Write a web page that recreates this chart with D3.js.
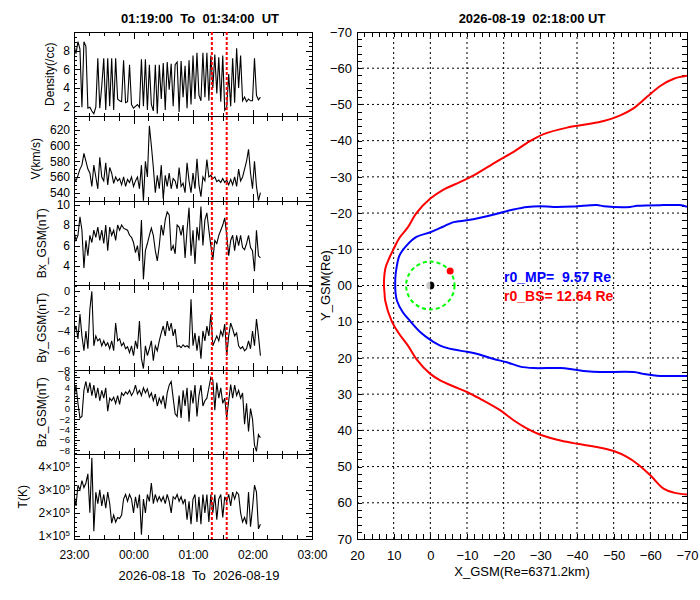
<!DOCTYPE html>
<html>
<head>
<meta charset="utf-8">
<script src="https://cdn.jsdelivr.net/npm/d3@7"></script>
<style>
    body { margin: 0; background: #fff; }
    svg text { font-family: "Liberation Sans", Arial, sans-serif; fill: #000; }
</style>
</head>
<body>
<div id="chart"></div>
<script>
// Solar wind samples, one every 2 minutes from 23:00 UT
const sampleStepMin = 2;
const density = [
    8.6, 7.7, 9.0, 8.2, 1.9, 9.0, 8.5, 1.8, 1.9, 1.5,
    1.2, 1.9, 7.2, 1.8, 4.2, 7.2, 1.6, 7.2, 2.0, 7.2,
    1.6, 7.2, 2.8, 2.6, 2.5, 7.0, 2.4, 2.5, 6.5, 2.2,
    1.8, 2.0, 2.2, 1.9, 7.1, 2.0, 7.1, 1.6, 6.5, 2.2,
    1.5, 6.5, 1.2, 6.5, 2.8, 6.7, 1.6, 6.8, 3.8, 6.6,
    2.0, 6.5, 6.8, 1.4, 6.9, 3.0, 6.4, 1.8, 7.0, 2.2,
    7.5, 2.8, 7.8, 3.2, 2.6, 7.8, 3.0, 7.8, 2.6, 7.5,
    4.0, 7.6, 3.4, 7.3, 2.5, 7.5, 1.6, 1.9, 5.5, 2.0,
    7.2, 2.4, 8.3, 4.0, 7.5, 2.6, 3.0, 2.5, 2.8, 2.6,
    2.6, 7.2, 3.2, 2.7, 3.0
];
const speed = [
    560, 555, 562, 570, 575, 590, 580, 570, 565, 548,
    575, 560, 545, 585, 560, 555, 578, 550, 572, 565,
    552, 560, 555, 558, 550, 560, 548, 557, 553, 560,
    548, 555, 560, 545, 575, 530, 580, 560, 625, 600,
    572, 540, 562, 545, 575, 532, 562, 548, 565, 545,
    558, 555, 545, 572, 548, 552, 540, 578, 555, 540,
    565, 545, 583, 550, 535, 560, 555, 582, 560, 562,
    558, 560, 554, 556, 553, 558, 553, 556, 550, 557,
    550, 560, 548, 570, 555, 560, 570, 580, 595, 565,
    545, 580, 548, 530, 540
];
const bxGsm = [
    7.4, 6.5, 7.0, 8.8, 7.5, 3.8, 6.5, 5.0, 7.0, 6.3,
    7.5, 6.8, 7.8, 6.5, 7.5, 6.2, 8.0, 5.5, 7.8, 7.0,
    7.5, 6.5, 8.0, 7.5, 8.0, 7.7, 7.6, 7.5, 7.0, 6.8,
    6.3, 5.3, 6.0, 4.5, 8.5, 2.7, 5.5, 6.2, 7.0, 7.7,
    7.0, 5.5, 4.5, 6.0, 8.0, 7.0, 8.5, 9.3, 9.0, 5.5,
    6.0, 5.2, 8.0, 7.8, 7.0, 8.0, 4.8, 7.5, 9.7, 5.0,
    7.5, 4.2, 7.8, 6.5, 9.8, 6.0, 8.5, 9.2, 7.5, 6.0,
    4.6, 6.5, 6.2, 7.0, 7.5, 8.0, 8.7, 7.0, 5.0, 6.5,
    7.0, 5.5, 7.0, 6.0, 7.0, 5.8, 5.6, 6.2, 7.0, 5.8,
    5.5, 3.5, 7.5, 5.0, 4.8
];
const byGsm = [
    -4.2, -3.5, -4.8, -2.3, -4.5, -6.0, -4.0, -5.8, -1.8, 0.0,
    -5.5, -4.5, -5.0, -4.8, -5.5, -5.0, -5.5, -5.2, -5.8, -5.0,
    -6.0, -3.2, -5.0, -4.8, -5.5, -5.2, -5.8, -5.6, -6.2, -5.5,
    -6.5, -5.0, -5.8, -3.0, -6.8, -7.8, -5.5, -6.5, -5.8, -5.0,
    -7.0, -5.5, -6.0, -5.0, -4.2, -3.5, -4.5, -3.0, -4.0, -3.2,
    -4.5, -3.8, -5.6, -5.5, -5.7, -5.4, -5.6, -5.5, -5.7, -0.8,
    -5.5, -4.2, -6.0, -4.5, -6.8, -4.0, -5.0, -3.5, -4.5, -2.3,
    -5.5, -5.0, -4.5, -5.0, -4.0, -4.5, -3.3, -6.5, -4.5, -3.2,
    -3.8, -4.5, -4.2, -5.5, -5.8, -5.6, -6.0, -5.8, -5.0, -5.8,
    -4.0, -5.5, -2.8, -4.5, -6.5
];
const bzGsm = [
    2.0, 4.5, 1.0, -1.8, -1.5, 3.5, 5.2, 3.0, 5.0, 2.5,
    4.5, 2.0, 4.0, 1.5, 3.5, 2.0, 4.0, -0.5, 2.0, 1.5,
    2.2, 1.0, 2.5, 0.8, 3.0, 2.5, 3.2, 2.8, 3.5, 2.5,
    3.2, 4.5, 2.8, 3.5, 2.5, 4.0, 3.0, 3.8, 2.2, 3.0,
    1.5, 2.8, 0.5, 2.0, 1.0, 2.5, 0.0, 3.0, 4.5, 5.2,
    2.0, -1.0, -1.5, 2.5, -1.8, 3.5, 0.5, 4.0, -2.5, 3.5,
    1.0, 4.5, -1.5, 2.5, 4.5, 0.5, 1.5, 2.0, 4.0, 6.0,
    5.5, -0.3, 5.0, 2.0, 4.0, 1.0, 2.0, -1.8, 1.5, 4.6,
    2.0, 4.5, 2.5, 3.5, 2.0, 3.0, -3.0, 1.0, -4.4, 0.0,
    -2.0, -7.0, -8.2, -5.0, -5.6
];
// Temperature in units of 10^5 K
const tempE5 = [
    2.8, 2.3, 3.2, 3.0, 3.4, 3.1, 3.3, 3.7, 2.0, 4.4,
    1.2, 2.9, 2.4, 3.0, 2.3, 2.8, 2.2, 2.9, 2.4, 1.55,
    1.9, 1.6, 1.8, 1.75, 1.9, 2.6, 2.8, 2.5, 2.8, 2.6,
    2.0, 2.7, 2.2, 2.8, 1.05, 2.6, 2.0, 2.8, 2.5, 3.3,
    2.4, 2.8, 2.5, 2.7, 2.5, 2.7, 2.4, 2.8, 2.5, 2.0,
    2.7, 2.6, 2.8, 2.5, 2.7, 2.4, 2.6, 1.7, 2.5, 1.5,
    2.6, 2.8, 1.6, 2.7, 1.5, 2.8, 2.0, 2.8, 1.6, 2.8,
    2.0, 2.8, 1.7, 2.6, 2.8, 1.8, 2.7, 2.5, 2.8, 2.3,
    2.9, 2.6, 2.9, 2.8, 2.0, 1.6, 1.8, 1.5, 2.9, 1.4,
    2.2, 3.2, 2.9, 1.3, 1.5
];

const densityTicks = [2, 4, 6, 8];
const speedTicks = [540, 560, 580, 600, 620];
const bxTicks = [4, 6, 8, 10];
const byTicks = [-8, -6, -4, -2, 0];
const bzTicks = [-8, -6, -4, -2, 0, 2, 4, 6];
const tempTicks = [1, 2, 3, 4];

// Magnetopause / bow shock outlines in GSM [X, Y] (Re)
const magnetopause = [
    [-70, -21.7], [-68, -22.2], [-63.6, -22.2], [-56.4, -22.0], [-54.5, -21.7], [-47.3, -21.9],
    [-45.4, -22.2], [-39, -21.8], [-33.6, -21.7], [-30, -21.9], [-26.4, -21.7], [-22.7, -21.0],
    [-20, -20.3], [-18.2, -19.8], [-13.6, -18.7], [-10, -18.0], [-6.4, -17.5], [-2.7, -15.9],
    [0, -14.7], [3.8, -13.4], [6.5, -11.0], [8.4, -8.3], [9.2, -5], [9.55, -2], [9.57, 0],
    [9.5, 2], [9.1, 4.2], [7.5, 7.4], [5.6, 9.7], [2.7, 12.9], [0, 15.0], [-2.7, 16.6],
    [-6.4, 17.7], [-10, 18.3], [-13.6, 19.1], [-17.3, 20.3], [-20.9, 21.2], [-24.5, 22.4],
    [-28.2, 22.8], [-35.5, 22.8], [-39, 23.2], [-42.7, 23.7], [-46.4, 23.9], [-55.5, 23.9],
    [-58, 24.4], [-61.8, 24.9], [-70, 25.0]
];
const bowShock = [
    [-70, -57.9], [-66.4, -57.1], [-62.7, -55.1], [-59.1, -52.1], [-55.5, -49.0], [-51.8, -47.0],
    [-47.3, -45.4], [-42.7, -44.5], [-37.3, -43.6], [-30.9, -41.8], [-26.4, -39.4], [-22.7, -36.9],
    [-18.2, -34.3], [-11.8, -30.4], [-8.2, -28.6], [-3.6, -26.5], [0, -24.0], [3.8, -20.0],
    [6.1, -16.1], [8.4, -13.2], [10, -10.1], [11.1, -7.8], [12.2, -5.0], [12.6, -2], [12.64, 0],
    [12.5, 2], [12.3, 4.2], [10.6, 9.7], [8.8, 12.9], [6.1, 16.6], [3.8, 20.3], [0, 24.4],
    [-2.7, 26.2], [-6.4, 27.9], [-10, 29.4], [-13.6, 31.3], [-19.1, 34.5], [-22.7, 37.2],
    [-26.4, 39.5], [-30, 41.2], [-35.5, 42.8], [-40, 43.7], [-45.5, 44.6], [-50, 45.7],
    [-53.6, 47.3], [-56.4, 49.2], [-60, 52.4], [-63.6, 56.1], [-66.4, 57.2], [-70, 57.7]
];
const satellitePos = [-5.4, -4.0];
const geoRadius = 6.6;
const r0MP = 9.57;
const r0BS = 12.64;

const startTime = new Date(Date.UTC(2026, 7, 18, 23, 0));
const endTime = new Date(Date.UTC(2026, 7, 19, 3, 0));
const eventTimes = [new Date(Date.UTC(2026, 7, 19, 1, 19)), new Date(Date.UTC(2026, 7, 19, 1, 34))];

class SolarWindDashboard {
    constructor(container) {
        this.container = container;
        this.left = {x0: 74, x1: 312, top: 32, bottom: 539};
        this.right = {x0: 357, x1: 687, top: 32, bottom: 539};
    }

    render() {
        this.svg = d3.select(this.container).append('svg')
            .attr('width', 700)
            .attr('height', 600);

        this.renderTimeSeries();
        this.renderOrbitView();
    }

    renderTimeSeries() {
        const svg = this.svg;
        const L = this.left;
        const panels = [
            {label: 'Density(/cc)', values: density, domain: [0.9, 10.05], ticks: densityTicks, minor: 0.5, titleX: 50},
            {label: 'V(km/s)', values: speed, domain: [529.5, 636.8], ticks: speedTicks, minor: 5, titleX: 36},
            {label: 'Bx_GSM(nT)', values: bxGsm, domain: [2.1, 10.35], ticks: bxTicks, minor: 0.5, titleX: 41.5},
            {label: 'By_GSM(nT)', values: byGsm, domain: [-7.95, 0.6], ticks: byTicks, minor: 0.5, titleX: 41.5, labelSize: 11},
            {label: 'Bz_GSM(nT)', values: bzGsm, domain: [-8.8, 7.4], ticks: bzTicks, minor: 0.5, titleX: 41.5, labelSize: 9.5},
            {label: 'T(K)', values: tempE5, domain: [0.86, 4.54], ticks: tempTicks, minor: 0.2, titleX: 23, sci: true}
        ];
        const ph = (L.bottom - L.top) / panels.length;

        const x = d3.scaleUtc()
            .domain([startTime, endTime])
            .range([L.x0, L.x1]);
        const times = density.map((_, i) => d3.utcMinute.offset(startTime, i * sampleStepMin));

        panels.forEach((p, i) => {
            const top = L.top + i * ph;
            const bottom = top + ph;
            const isLast = i === panels.length - 1;
            const y = d3.scaleLinear().domain(p.domain).range([bottom, top]);
            const g = svg.append('g');

            // Time ticks on top and bottom edges
            const timeAxes = [
                [d3.axisTop, top],
                [d3.axisBottom, bottom]
            ];
            timeAxes.forEach(([axisFn, ypos]) => {
                g.append('g')
                    .attr('transform', `translate(0,${ypos})`)
                    .call(axisFn(x).ticks(d3.utcMinute.every(15)).tickSize(-4).tickFormat(''));
                const major = g.append('g')
                    .attr('transform', `translate(0,${ypos})`)
                    .call(axisFn(x).ticks(d3.utcHour.every(1)).tickSize(-7).tickPadding(11)
                        .tickFormat(isLast && axisFn === d3.axisBottom ? d3.utcFormat('%H:%M') : ''));
                major.selectAll('text').style('font-size', '12px');
            });

            // Value ticks on left and right edges
            const minorVals = d3.range(Math.ceil(p.domain[0] / p.minor) * p.minor, p.domain[1], p.minor);
            [[d3.axisLeft, L.x0], [d3.axisRight, L.x1]].forEach(([axisFn, xpos]) => {
                g.append('g')
                    .attr('transform', `translate(${xpos},0)`)
                    .call(axisFn(y).tickValues(minorVals).tickSize(-3).tickFormat(''));
                g.append('g')
                    .attr('transform', `translate(${xpos},0)`)
                    .call(axisFn(y).tickValues(p.ticks).tickSize(-6).tickFormat(''));
            });

            const labels = g.append('g')
                .attr('transform', `translate(${L.x0},0)`)
                .call(d3.axisLeft(y).tickValues(p.ticks).tickSize(0).tickPadding(4)
                    .tickFormat(p.sci ? d => `${d}×10` : d3.format('d')));
            labels.selectAll('text').style('font-size', `${p.labelSize || 12}px`);
            if (p.sci) {
                labels.selectAll('text').append('tspan')
                    .attr('dy', '-0.5em')
                    .style('font-size', '8px')
                    .text('5');
            }

            g.selectAll('.domain').remove();
            g.selectAll('.tick line').attr('stroke', '#000').attr('shape-rendering', 'crispEdges');

            // Frame
            g.append('rect')
                .attr('x', L.x0)
                .attr('y', top)
                .attr('width', L.x1 - L.x0)
                .attr('height', ph)
                .attr('fill', 'none')
                .attr('stroke', '#000')
                .attr('shape-rendering', 'crispEdges');

            // Series
            const clipId = `clip-panel-${i}`;
            g.append('clipPath').attr('id', clipId)
                .append('rect')
                .attr('x', L.x0).attr('y', top)
                .attr('width', L.x1 - L.x0).attr('height', ph);

            const line = d3.line()
                .x((d, j) => x(times[j]))
                .y(d => y(d));

            g.append('path')
                .attr('clip-path', `url(#${clipId})`)
                .attr('d', line(p.values))
                .attr('fill', 'none')
                .attr('stroke', '#000')
                .attr('stroke-width', 1.1);

            // Y title
            g.append('text')
                .attr('transform', `translate(${p.titleX},${(top + bottom) / 2}) rotate(-90)`)
                .attr('text-anchor', 'middle')
                .attr('dominant-baseline', 'central')
                .style('font-size', '12px')
                .text(p.label);
        });

        // Event window markers
        svg.selectAll('.event-line')
            .data(eventTimes)
            .enter().append('line')
            .attr('class', 'event-line')
            .attr('x1', d => x(d))
            .attr('x2', d => x(d))
            .attr('y1', L.top)
            .attr('y2', L.bottom)
            .attr('stroke', '#ff0000')
            .attr('stroke-width', 2)
            .attr('stroke-dasharray', '3,2');

        // Title and date range
        svg.append('text')
            .attr('x', 200)
            .attr('y', 22.5)
            .attr('text-anchor', 'middle')
            .style('font-size', '13px')
            .style('font-weight', 'bold')
            .style('white-space', 'pre')
            .text('01:19:00  To  01:34:00  UT');

        svg.append('text')
            .attr('x', 199)
            .attr('y', 579.5)
            .attr('text-anchor', 'middle')
            .style('font-size', '13px')
            .style('white-space', 'pre')
            .text('2026-08-18  To  2026-08-19');
    }

    renderOrbitView() {
        const svg = this.svg;
        const R = this.right;

        const gx = d3.scaleLinear().domain([20, -70]).range([R.x0, R.x1]);
        const gy = d3.scaleLinear().domain([-70, 70]).range([R.top, R.bottom]);
        const g = svg.append('g');

        // Dotted grid
        const gridX = d3.range(10, -70, -10);
        const gridY = d3.range(-60, 70, 10);
        g.selectAll('.grid-x')
            .data(gridX)
            .enter().append('line')
            .attr('x1', d => gx(d)).attr('x2', d => gx(d))
            .attr('y1', R.top).attr('y2', R.bottom)
            .attr('stroke', '#000')
            .attr('stroke-dasharray', '2,3');
        g.selectAll('.grid-y')
            .data(gridY)
            .enter().append('line')
            .attr('x1', R.x0).attr('x2', R.x1)
            .attr('y1', d => gy(d)).attr('y2', d => gy(d))
            .attr('stroke', '#000')
            .attr('stroke-dasharray', '2,3');

        // Minor ticks on all four sides
        const minorX = d3.range(20, -71, -2);
        const minorY = d3.range(-70, 71, 2);
        const ticks = g.append('g');
        ticks.append('g').attr('transform', `translate(0,${R.top})`)
            .call(d3.axisTop(gx).tickValues(minorX).tickSize(-5).tickFormat(''));
        ticks.append('g').attr('transform', `translate(0,${R.bottom})`)
            .call(d3.axisBottom(gx).tickValues(minorX).tickSize(-5).tickFormat(''));
        ticks.append('g').attr('transform', `translate(${R.x0},0)`)
            .call(d3.axisLeft(gy).tickValues(minorY).tickSize(-5).tickFormat(''));
        ticks.append('g').attr('transform', `translate(${R.x1},0)`)
            .call(d3.axisRight(gy).tickValues(minorY).tickSize(-5).tickFormat(''));

        // Tick labels
        const xLabels = ticks.append('g').attr('transform', `translate(0,${R.bottom})`)
            .call(d3.axisBottom(gx).tickValues(d3.range(20, -71, -10)).tickSize(0).tickPadding(12)
                .tickFormat(d3.format('d')));
        const yLabels = ticks.append('g').attr('transform', `translate(${R.x0},0)`)
            .call(d3.axisLeft(gy).tickValues(d3.range(-70, 71, 10)).tickSize(0).tickPadding(5)
                .tickFormat(d => d === 0 ? '00' : d3.format('d')(d)));
        xLabels.selectAll('text').style('font-size', '13px');
        yLabels.selectAll('text').style('font-size', '13px');
        ticks.selectAll('.domain').remove();
        ticks.selectAll('.tick line').attr('stroke', '#000').attr('shape-rendering', 'crispEdges');

        g.append('rect')
            .attr('x', R.x0).attr('y', R.top)
            .attr('width', R.x1 - R.x0).attr('height', R.bottom - R.top)
            .attr('fill', 'none')
            .attr('stroke', '#000')
            .attr('shape-rendering', 'crispEdges');

        // Boundaries
        g.append('clipPath').attr('id', 'clip-orbit')
            .append('rect')
            .attr('x', R.x0).attr('y', R.top)
            .attr('width', R.x1 - R.x0).attr('height', R.bottom - R.top);

        const outline = d3.line()
            .x(d => gx(d[0]))
            .y(d => gy(d[1]))
            .curve(d3.curveCatmullRom);

        g.append('path')
            .attr('clip-path', 'url(#clip-orbit)')
            .attr('d', outline(bowShock))
            .attr('fill', 'none')
            .attr('stroke', '#ff0000')
            .attr('stroke-width', 2);

        g.append('path')
            .attr('clip-path', 'url(#clip-orbit)')
            .attr('d', outline(magnetopause))
            .attr('fill', 'none')
            .attr('stroke', '#0000ff')
            .attr('stroke-width', 2);

        // Geosynchronous orbit
        g.append('ellipse')
            .attr('cx', gx(0)).attr('cy', gy(0))
            .attr('rx', gx(0) - gx(geoRadius))
            .attr('ry', gy(geoRadius) - gy(0))
            .attr('fill', 'none')
            .attr('stroke', '#00ff00')
            .attr('stroke-width', 2)
            .attr('stroke-dasharray', '4,3');

        // Earth: day side (sunward, +X) light, night side dark
        const earthR = gx(0) - gx(1.1);
        const earth = g.append('g').attr('transform', `translate(${gx(0)},${gy(0)})`);
        earth.append('path')
            .attr('d', d3.arc()({innerRadius: 0, outerRadius: earthR, startAngle: Math.PI, endAngle: 2 * Math.PI}))
            .attr('fill', '#c8c8c8');
        earth.append('path')
            .attr('d', d3.arc()({innerRadius: 0, outerRadius: earthR, startAngle: 0, endAngle: Math.PI}))
            .attr('fill', '#000');

        // Satellite position
        g.append('circle')
            .attr('cx', gx(satellitePos[0]))
            .attr('cy', gy(satellitePos[1]))
            .attr('r', 3.5)
            .attr('fill', '#ff0000');

        // Standoff distances
        g.append('text')
            .attr('x', 504)
            .attr('y', 281.5)
            .style('font-size', '14px')
            .style('font-weight', 'bold')
            .style('white-space', 'pre')
            .style('fill', '#0000ff')
            .text(`r0_MP=  ${d3.format('.2f')(r0MP)} Re`);
        g.append('text')
            .attr('x', 504)
            .attr('y', 300.5)
            .style('font-size', '14px')
            .style('font-weight', 'bold')
            .style('white-space', 'pre')
            .style('fill', '#ff0000')
            .text(`r0_BS= ${d3.format('.2f')(r0BS)} Re`);

        // Titles
        svg.append('text')
            .attr('x', 532)
            .attr('y', 22.5)
            .attr('text-anchor', 'middle')
            .style('font-size', '13px')
            .style('font-weight', 'bold')
            .style('white-space', 'pre')
            .text('2026-08-19  02:18:00 UT');

        svg.append('text')
            .attr('x', (R.x0 + R.x1) / 2)
            .attr('y', 576)
            .attr('text-anchor', 'middle')
            .style('font-size', '13px')
            .text('X_GSM(Re=6371.2km)');

        svg.append('text')
            .attr('transform', `translate(325,${gy(0)}) rotate(-90)`)
            .attr('text-anchor', 'middle')
            .attr('dominant-baseline', 'central')
            .style('font-size', '13px')
            .text('Y_GSM(Re)');
    }
}

new SolarWindDashboard(document.getElementById('chart')).render();
</script>
</body>
</html>
